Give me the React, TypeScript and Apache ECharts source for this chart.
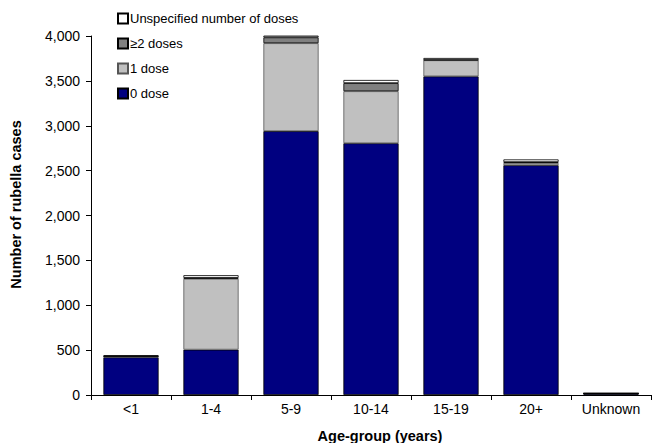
import React, { useEffect, useRef } from "react";
import * as echarts from "echarts";

const categories = ["<1", "1-4", "5-9", "10-14", "15-19", "20+", "Unknown"];
const zeroDose = [420, 505, 2940, 2805, 3550, 2560, 18];
const oneDose = [12, 790, 980, 580, 180, 25, 0];
const twoPlusDoses = [0, 10, 65, 90, 5, 10, 0];
const unspecified = [10, 30, 25, 35, 20, 30, 0];
const yTicks = { min: 0, max: 4000, interval: 500 };

export default function App() {
  const ref = useRef<HTMLDivElement>(null);
  useEffect(() => {
    if (!ref.current) return;
    const chart = echarts.init(ref.current, null, { renderer: "svg" });
    const font = "'Liberation Sans', Arial, sans-serif";
    const mk = (name: string, data: number[], color: string, border: string) => ({
      name,
      type: "bar",
      stack: "total",
      data,
      barCategoryGap: "31%",
      itemStyle: { color, borderColor: border, borderWidth: 0.8 },
    });
    chart.setOption({
      animation: false,
      backgroundColor: "#fff",
      textStyle: { fontFamily: font },
      grid: { left: 91, right: 3, top: 36, bottom: 48, outerBoundsMode: "none", containLabel: false },
      legend: {
        orient: "vertical",
        left: 112,
        top: 7,
        itemGap: 12,
        itemWidth: 10,
        itemHeight: 10,
        icon: "rect",
        data: ["Unspecified number of doses", "≥2 doses", "1 dose", "0 dose"],
        textStyle: { fontFamily: font, fontSize: 13, color: "#000", padding: [0, 0, 0, -3] },
      },
      xAxis: {
        type: "category",
        data: categories,
        name: "Age-group (years)",
        nameLocation: "middle",
        nameGap: 33,
        nameTextStyle: { fontFamily: font, fontSize: 14.5, fontWeight: "bold", color: "#000", padding: [0, 0, 0, 18] },
        axisLine: { lineStyle: { color: "#000", width: 1 } },
        axisTick: { show: true, length: 5, lineStyle: { color: "#000" } },
        axisLabel: { color: "#000", fontSize: 14, margin: 7, fontFamily: font },
      },
      yAxis: {
        type: "value",
        min: yTicks.min,
        max: yTicks.max,
        interval: yTicks.interval,
        name: "Number of rubella cases",
        nameLocation: "middle",
        nameGap: 68,
        nameTextStyle: { fontFamily: font, fontSize: 14.5, fontWeight: "bold", color: "#000", padding: [0, 0, 0, 22] },
        axisLine: { show: true, lineStyle: { color: "#000", width: 1 } },
        axisTick: { show: true, length: 5, lineStyle: { color: "#000" } },
        splitLine: { show: false },
        axisLabel: {
          color: "#000",
          fontSize: 14,
          margin: 11,
          fontFamily: font,
          formatter: (v: number) => v.toLocaleString("en-US"),
        },
      },
      series: [
        mk("0 dose", zeroDose, "#000080", "#000"),
        mk("1 dose", oneDose, "#C0C0C0", "#555"),
        mk("≥2 doses", twoPlusDoses, "#808080", "#000"),
        mk("Unspecified number of doses", unspecified, "#FFFFFF", "#000"),
      ],
    });
    return () => chart.dispose();
  }, []);
  return <div ref={ref} style={{ width: 654, height: 443, position: "absolute", left: 0, top: 0 }} />;
}
